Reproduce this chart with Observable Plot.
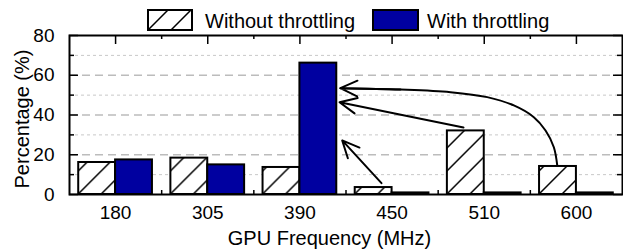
<!DOCTYPE html>
<html><head><meta charset="utf-8">
<script src="https://cdn.jsdelivr.net/npm/d3@7"></script>
<script src="https://cdn.jsdelivr.net/npm/@observablehq/plot@0.6"></script>
<style>
body{margin:0;background:#fff;font-family:"Liberation Sans",Arial,sans-serif;}
#wrap{position:relative;width:623px;height:250px;overflow:hidden;}
#wrap svg{position:absolute;left:0;top:0;}
.lg{position:absolute;font-size:20px;line-height:20px;color:#000;white-space:nowrap;z-index:2;}
.box{position:absolute;box-sizing:border-box;border:2px solid #000;z-index:2;}
</style></head><body><div id="wrap"></div>
<script>
// ---- data ----
const frequencies = ["180", "305", "390", "450", "510", "600"];
const withoutThrottling = [16.1, 18.3, 13.6, 3.5, 32.0, 14.1];
const withThrottling = [17.4, 14.9, 66.1, 0.8, 0.8, 0.8];
const seriesNames = ["Without throttling", "With throttling"];
const yTicks = [0, 20, 40, 60, 80];
const yMinorTicks = [10, 30, 50, 70];
const xLabel = "GPU Frequency (MHz)";
const yLabel = "Percentage (%)";
// annotation arrows (x in group-index units, y in %)
const arrowX1 = [2.885, 3.775];
const arrowY1 = [5.7, 33.7];
const arrowX2 = [2.459, 2.43];
const arrowY2 = [27.2, 46.4];
const curveX = [4.792, 4.755, 4.665, 4.538, 4.321, 4.032, 3.634, 3.091, 2.439];
const curveY = [14.6, 23.8, 32.2, 38.9, 44.8, 49.0, 51.5, 52.8, 53.5];

// ---- layout ----
const W = 623, H = 250, ML = 69, MR = 1, MT = 35, MB = 56;
const fw = W - ML - MR, fh = H - MT - MB;
const BLUE = "#0000a0";
const BW = 0.4;

const idx = d3.range(frequencies.length);
const rows = idx.map(i => ({i, without: withoutThrottling[i], with: withThrottling[i]}));
const bounds = idx.slice(0, -1).map(i => i + 0.5);
const arrowIdx = d3.range(arrowX1.length);
const curveIdx = d3.range(curveX.length);
const nC = curveX.length;

const plot = Plot.plot({
  width: W, height: H,
  marginLeft: ML, marginRight: MR, marginTop: MT, marginBottom: MB,
  style: {fontFamily: "Liberation Sans, Arial, sans-serif", fontSize: "19px", color: "#000", background: "transparent"},
  x: {domain: [-0.5, frequencies.length - 0.5], ticks: idx, tickFormat: i => frequencies[i], tickSize: 0, tickPadding: 11, label: null},
  y: {domain: [0, 80], ticks: yTicks, tickSize: 0, tickPadding: 15, label: null},
  color: {type: "identity"},
  marks: [
    Plot.ruleY(yMinorTicks, {stroke: "#c8c8c8", strokeWidth: 1, strokeDasharray: "3,3"}),
    Plot.ruleY(yTicks.filter(v => v > 0 && v < 80), {stroke: "#bcbcbc", strokeWidth: 1.3, strokeDasharray: "8,5"}),
    Plot.tickX(bounds, {x: d => d, insetTop: fh - 4, stroke: "#000", strokeWidth: 1.5}),
    Plot.rectY(rows, {x1: d => d.i - BW, x2: d => d.i, y1: 0, y2: "without", fill: d => `url(#hatch${d.i})`, stroke: "#000", strokeWidth: 2}),
    Plot.rectY(rows, {x1: d => d.i, x2: d => d.i + BW, y1: 0, y2: "with", fill: BLUE, stroke: "#000", strokeWidth: 2}),
    Plot.arrow(arrowIdx, {x1: i => arrowX1[i], y1: i => arrowY1[i], x2: i => arrowX2[i], y2: i => arrowY2[i], stroke: "#000", strokeWidth: 2, headLength: 14, headAngle: 50}),
    Plot.line(curveIdx, {x: i => curveX[i], y: i => curveY[i], curve: "catmull-rom", stroke: "#000", strokeWidth: 2}),
    Plot.arrow([0], {x1: curveX[nC - 2], y1: curveY[nC - 2], x2: curveX[nC - 1], y2: curveY[nC - 1], stroke: "#000", strokeWidth: 2, headLength: 14, headAngle: 50}),
    // inward tick marks
    Plot.tickY(yTicks, {y: d => d, insetRight: fw - 9, stroke: "#000", strokeWidth: 1.5}),
    Plot.tickY(yMinorTicks, {y: d => d, insetRight: fw - 5, stroke: "#000", strokeWidth: 1.5}),
    Plot.tickY(yTicks, {y: d => d, insetLeft: fw - 9, stroke: "#000", strokeWidth: 1.5}),
    Plot.tickY(yMinorTicks, {y: d => d, insetLeft: fw - 5, stroke: "#000", strokeWidth: 1.5}),
    Plot.tickX(idx, {x: d => d, insetBottom: fh - 9, stroke: "#000", strokeWidth: 1.5}),
    Plot.tickX(bounds, {x: d => d, insetBottom: fh - 4, stroke: "#000", strokeWidth: 1.5}),
    Plot.frame({stroke: "#000", strokeWidth: 2}),
    Plot.text([yLabel], {text: d => d, frameAnchor: "left", rotate: -90, textAnchor: "middle", lineAnchor: "middle", dx: -47, dy: 4, fontSize: 20}),
    Plot.text([xLabel], {text: d => d, frameAnchor: "bottom", textAnchor: "middle", lineAnchor: "middle", dx: -16.5, dy: 44, fontSize: 20})
  ]
});

// hatch patterns anchored at each bar's bottom-left corner
const NS = "http://www.w3.org/2000/svg";
const xs = plot.scale("x"), ys = plot.scale("y");
const defs = document.createElementNS(NS, "defs");
function makePattern(id, x0, y0) {
  const p = document.createElementNS(NS, "pattern");
  p.setAttribute("id", id);
  p.setAttribute("patternUnits", "userSpaceOnUse");
  p.setAttribute("x", x0); p.setAttribute("y", y0);
  p.setAttribute("width", 23); p.setAttribute("height", 23);
  const r = document.createElementNS(NS, "rect");
  r.setAttribute("width", 23); r.setAttribute("height", 23); r.setAttribute("fill", "#fff");
  const path = document.createElementNS(NS, "path");
  path.setAttribute("d", "M-3,3 L3,-3 M0,23 L23,0 M20,26 L26,20");
  path.setAttribute("stroke", "#000"); path.setAttribute("stroke-width", 1.5);
  p.appendChild(r); p.appendChild(path);
  return p;
}
idx.forEach(i => defs.appendChild(makePattern(`hatch${i}`, xs.apply(i - BW), ys.apply(0))));
plot.insertBefore(defs, plot.firstChild);

const wrap = document.getElementById("wrap");
wrap.appendChild(plot);

// legend (HTML overlay above the frame)
const legend = document.createElement("div");
legend.innerHTML = `
<svg class="lg" style="left:147px;top:9px" width="46" height="22">
  <defs><pattern id="lgHatch" patternUnits="userSpaceOnUse" x="0" y="22" width="23" height="23">
    <rect width="23" height="23" fill="#fff"/>
    <path d="M-3,3 L3,-3 M0,23 L23,0 M20,26 L26,20" stroke="#000" stroke-width="1.5"/>
  </pattern></defs>
  <rect x="1" y="1" width="44" height="20" fill="url(#lgHatch)" stroke="#000" stroke-width="2"/>
</svg>
<div class="lg" style="left:205px;top:11.4px">${seriesNames[0]}</div>
<div class="box" style="left:372px;top:9px;width:47px;height:22px;background:${BLUE}"></div>
<div class="lg" style="left:427px;top:11.4px">${seriesNames[1]}</div>`;
wrap.appendChild(legend);
</script>
</body></html>
